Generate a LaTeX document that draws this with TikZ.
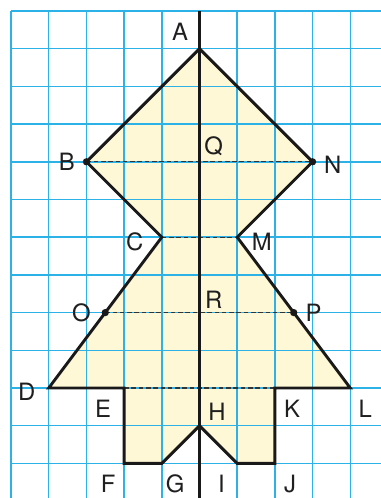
\documentclass[tikz,border=0pt]{standalone}
\usepackage{fontspec}
\setmainfont{TeX Gyre Heros}
\usetikzlibrary{positioning}
\definecolor{gridblue}{RGB}{45,178,232}
\definecolor{shapefill}{RGB}{254,248,214}
\begin{document}
\begin{tikzpicture}[node distance=0.3cm]
% one grid square = 1cm, rows counted downwards from the top border
\tikzstyle{lbl} = [inner sep=0pt, font=\fontsize{18}{20}\selectfont, text=black!88]
\tikzstyle{pt} = [circle, fill=black!90, inner sep=0pt, minimum size=5.5pt]
\tikzstyle{outline} = [line width=2.2pt, black!90, line join=miter]
\tikzstyle{half} = [line width=0.9pt, black!80, dash pattern=on 3.5pt off 2pt]
\tikzstyle{gridline} = [line width=1.1pt, gridblue]
\useasboundingbox (-0.292,0.292) rectangle (9.814,-12.918);
\fill[white] (-0.292,0.292) rectangle (9.814,-12.918);
\coordinate (A) at (5,-1);
\coordinate (B) at (2,-4);
\coordinate (C) at (4,-6);
\coordinate (D) at (1,-10);
\coordinate (E) at (3,-10);
\coordinate (F) at (3,-12);
\coordinate (G) at (4,-12);
\coordinate (H) at (5,-11);
\coordinate (I) at (6,-12);
\coordinate (J) at (7,-12);
\coordinate (K) at (7,-10);
\coordinate (L) at (9,-10);
\coordinate (M) at (6,-6);
\coordinate (N) at (8,-4);
\coordinate (O) at (2.5,-8);
\coordinate (P) at (7.5,-8);
\coordinate (Q) at (5,-4);
\coordinate (R) at (5,-8);
\coordinate (axistop) at (5,0);
\coordinate (axisbot) at (5,-12.918);
\fill[shapefill] (A) -- (N) -- (M) -- (L) -- (K) -- (J) -- (I) -- (H) -- (G) -- (F) -- (E) -- (D) -- (C) -- (B) -- cycle;
\foreach \x in {0,...,9}
  \draw[gridline] (\x,0) -- (\x,-12.918);
\foreach \y in {0,...,12}
  \draw[gridline] (0,-\y) -- (9.814,-\y);
\draw[half] (B) -- (N);
\draw[half] (C) -- (M);
\draw[half] (O) -- (P);
\draw[half] (E) -- (K);
\draw[outline] (A) -- (N) -- (M) -- (L) -- (K) -- (J) -- (I) -- (H) -- (G) -- (F) -- (E) -- (D) -- (C) -- (B) -- cycle;
\draw[outline] (axistop) -- (axisbot);
\node (dotB) [pt] at (B) {};
\node (dotN) [pt] at (N) {};
\node (dotO) [pt] at (O) {};
\node (dotP) [pt] at (P) {};
\node (lA) [lbl, above left=0.2cm and 0.3cm of A] {A};
\node (lB) [lbl, left=0.3cm of B] {B};
\node (lQ) [lbl, above right=0.14cm and 0.12cm of Q] {Q};
\node (lN) [lbl, right=0.3cm of N, yshift=-0.09cm] {N};
\node (lC) [lbl, left=0.48cm of C, yshift=-0.12cm] {C};
\node (lM) [lbl, right=0.38cm of M, yshift=-0.12cm] {M};
\node (lO) [lbl, left=0.38cm of O] {O};
\node (lR) [lbl, above right=0.1cm and 0.14cm of R] {R};
\node (lP) [lbl, right=0.31cm of P] {P};
\node (lD) [lbl, left=0.35cm of D, yshift=-0.1cm] {D};
\node (lE) [lbl, below left=0.31cm and 0.34cm of E] {E};
\node (lF) [lbl, below left=0.3cm and 0.22cm of F] {F};
\node (lG) [lbl, below right=0.3cm and 0.1cm of G] {G};
\node (lH) [lbl, above right=0.14cm and 0.23cm of H] {H};
\node (lI) [lbl, below left=0.3cm and 0.32cm of I] {I};
\node (lJ) [lbl, below right=0.3cm and 0.24cm of J] {J};
\node (lK) [lbl, below right=0.31cm and 0.24cm of K] {K};
\node (lL) [lbl, below right=0.31cm and 0.215cm of L] {L};
\end{tikzpicture}
\end{document}
